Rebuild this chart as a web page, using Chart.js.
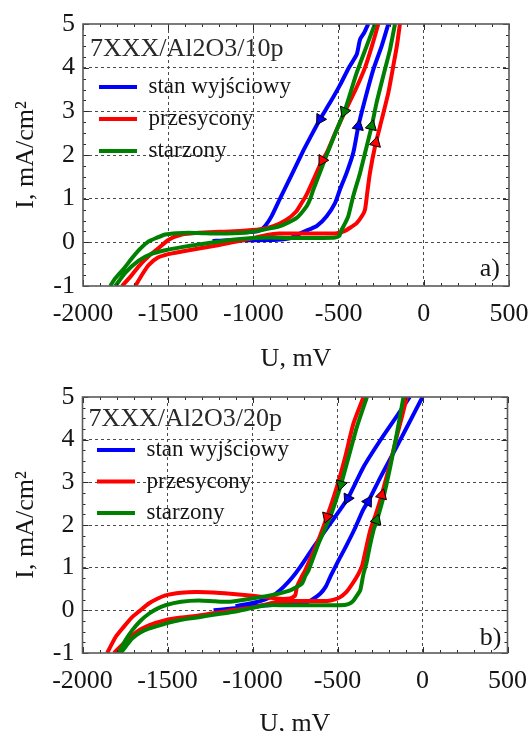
<!DOCTYPE html>
<html><head><meta charset="utf-8">
<script src="https://cdn.jsdelivr.net/npm/chart.js@4.4.1/dist/chart.umd.min.js"></script>
<style>
html,body{margin:0;padding:0;background:#fff;width:528px;height:731px;overflow:hidden;position:relative;}
canvas{position:absolute;left:0;}
#ca{top:0}
#cb{top:372px}
</style></head><body>
<canvas id="ca" width="528" height="372"></canvas>
<canvas id="cb" width="528" height="365"></canvas>
<script>
const SERIES_NAMES = ['stan wyjściowy', 'przesycony', 'starzony'];
const SERIES_COLORS = ['#0000ff', '#ff0000', '#008000'];
const PANEL_TITLES = ['7XXX/Al2O3/10p', '7XXX/Al2O3/20p'];
const PANEL_TAGS = ['a)', 'b)'];
const X_TICKS = [-2000, -1500, -1000, -500, 0, 500];
const Y_TICKS = [-1, 0, 1, 2, 3, 4, 5];
const X_TITLE = 'U, mV';
const Y_TITLE = 'I, mA/cm²';

// ---- panel a) : [U mV, I mA/cm2] ----
const aBlueFwd = [[-1240,0.03],[-1150,0.05],[-1000,0.05],[-860,0.06],[-780,0.1],[-717,0.22],[-670,0.3],[-629,0.37],[-570,0.6],[-521,0.9],[-492,1.21],[-453,1.59],[-414,2.05],[-384,2.66],[-345,3.27],[-296,3.96],[-247,4.5],[-208,5.0]];
const aBlueRev = [[-326,5.0],[-350,4.8],[-374,4.65],[-394,4.3],[-440,4.0],[-492,3.6],[-550,3.2],[-609,2.82],[-660,2.45],[-707,2.1],[-775,1.55],[-844,1.0],[-893,0.6],[-930,0.38],[-960,0.28],[-1000,0.24],[-1100,0.22]];
const aRedFwd = [[-1693,-1],[-1650,-0.72],[-1615,-0.52],[-1560,-0.35],[-1500,-0.27],[-1420,-0.21],[-1320,-0.14],[-1200,-0.06],[-1100,0.02],[-1000,0.1],[-920,0.17],[-850,0.2],[-700,0.2],[-600,0.2],[-510,0.21],[-470,0.25],[-430,0.34],[-394,0.44],[-360,0.62],[-345,0.75],[-333,1.1],[-316,1.59],[-286,2.2],[-247,2.81],[-208,3.43],[-179,4.04],[-158,4.5],[-140,5.0]];
const aRedRev = [[-267,5.0],[-300,4.55],[-345,4.0],[-400,3.5],[-462,3.0],[-520,2.5],[-570,2.05],[-600,1.85],[-640,1.5],[-687,1.1],[-717,0.9],[-750,0.7],[-805,0.52],[-883,0.37],[-961,0.3],[-1080,0.26],[-1200,0.24],[-1320,0.22],[-1420,0.18],[-1497,0.06],[-1556,-0.13],[-1615,-0.32],[-1673,-0.55],[-1720,-0.78],[-1771,-1]];
const aGreenFwd = [[-1810,-1],[-1752,-0.7],[-1673,-0.42],[-1595,-0.26],[-1517,-0.18],[-1420,-0.11],[-1321,-0.05],[-1200,0.02],[-1126,0.06],[-1000,0.1],[-900,0.11],[-800,0.1],[-700,0.1],[-600,0.1],[-520,0.11],[-495,0.15],[-482,0.29],[-460,0.45],[-443,0.6],[-414,1.06],[-374,1.59],[-335,2.2],[-306,2.66],[-277,3.2],[-238,3.81],[-198,4.42],[-169,5.0]];
const aGreenRev = [[-287,5.0],[-335,4.5],[-394,3.88],[-462,3.04],[-511,2.58],[-580,1.9],[-648,1.21],[-668,0.98],[-687,0.83],[-746,0.56],[-844,0.37],[-942,0.29],[-1059,0.22],[-1200,0.2],[-1300,0.21],[-1380,0.22],[-1450,0.21],[-1517,0.18],[-1570,0.1],[-1615,0.02],[-1665,-0.15],[-1712,-0.36],[-1760,-0.6],[-1810,-0.82],[-1840,-1]];
// arrows: [series index, branch, U, I]
const aArrows = [[0,'rev',-609,2.82],[1,'rev',-596,1.88],[2,'rev',-466,3.0],[0,'fwd',-384,2.66],[2,'fwd',-306,2.66],[1,'fwd',-282,2.28]];

// ---- panel b) ----
const bBlueFwd = [[-1229,0.0],[-1150,0.03],[-1000,0.09],[-900,0.12],[-800,0.14],[-720,0.15],[-690,0.17],[-650,0.25],[-602,0.39],[-570,0.55],[-543,0.78],[-523,0.94],[-494,1.17],[-450,1.5],[-400,1.9],[-350,2.35],[-313,2.6],[-250,3.1],[-190,3.55],[-130,4.0],[-65,4.5],[0,5.0]];
const bBlueRev = [[-75,5.0],[-141,4.61],[-249,3.98],[-347,3.36],[-440,2.62],[-543,2.03],[-641,1.48],[-719,1.02],[-770,0.75],[-817,0.55],[-860,0.4],[-896,0.31],[-950,0.22],[-1014,0.16],[-1100,0.1]];
const bRedFwd = [[-1815,-1],[-1760,-0.78],[-1708,-0.59],[-1660,-0.45],[-1610,-0.35],[-1512,-0.23],[-1420,-0.17],[-1316,-0.12],[-1220,-0.06],[-1120,0.0],[-1050,0.04],[-983,0.08],[-920,0.14],[-850,0.2],[-750,0.22],[-650,0.22],[-560,0.22],[-520,0.25],[-484,0.31],[-450,0.42],[-425,0.55],[-400,0.7],[-376,0.86],[-355,1.05],[-335,1.4],[-307,1.88],[-275,2.25],[-249,2.58],[-220,3.0],[-190,3.44],[-150,4.1],[-120,4.55],[-92,5.0]];
const bRedRev = [[-347,5.0],[-406,4.38],[-455,3.59],[-504,2.89],[-562,2.19],[-621,1.56],[-690,0.94],[-709,0.8],[-739,0.55],[-749,0.35],[-780,0.28],[-837,0.27],[-900,0.3],[-1000,0.34],[-1131,0.39],[-1230,0.42],[-1335,0.43],[-1420,0.41],[-1512,0.35],[-1560,0.27],[-1610,0.16],[-1660,0.0],[-1708,-0.16],[-1760,-0.4],[-1806,-0.63],[-1855,-1]];
const bGreenFwd = [[-1776,-1],[-1740,-0.82],[-1708,-0.66],[-1660,-0.52],[-1610,-0.43],[-1512,-0.31],[-1420,-0.22],[-1316,-0.16],[-1220,-0.1],[-1120,-0.04],[-1020,0.04],[-923,0.12],[-800,0.12],[-700,0.12],[-600,0.12],[-500,0.12],[-450,0.13],[-420,0.18],[-406,0.23],[-380,0.38],[-366,0.47],[-347,0.86],[-330,1.1],[-310,1.5],[-288,1.88],[-268,2.11],[-229,2.66],[-190,3.36],[-151,4.14],[-112,5.0]];
const bGreenRev = [[-327,5.0],[-386,4.3],[-435,3.59],[-484,2.89],[-543,2.19],[-612,1.56],[-670,0.94],[-690,0.8],[-709,0.63],[-778,0.47],[-896,0.35],[-1014,0.27],[-1131,0.2],[-1220,0.21],[-1316,0.23],[-1420,0.2],[-1512,0.12],[-1560,0.04],[-1610,-0.08],[-1660,-0.25],[-1708,-0.47],[-1750,-0.72],[-1786,-1]];
const bArrows = [[2,'rev',-480,2.95],[1,'rev',-562,2.19],[0,'rev',-440,2.62],[0,'fwd',-320,2.55],[1,'fwd',-239,2.7],[2,'fwd',-270,2.11]];

const FONT = '"Liberation Serif", "Times New Roman", serif';
const TEXT = '#151515';

function pts(a) { return a.map(p => ({x: p[0], y: p[1]})); }

function arrowAngle(c, branches) {
  const raw = c.raw;
  if (!raw || raw.b === undefined) return 0;
  const br = raw.b === 'fwd' ? branches[0] : branches[1];
  const xs = c.chart.scales.x, ys = c.chart.scales.y;
  if (!xs || !ys) return 0;
  const px = xs.getPixelForValue(raw.x), py = ys.getPixelForValue(raw.y);
  let best = Infinity, ang = 0;
  for (let i = 0; i < br.length - 1; i++) {
    const ax = xs.getPixelForValue(br[i][0]), ay = ys.getPixelForValue(br[i][1]);
    const bx = xs.getPixelForValue(br[i+1][0]), by = ys.getPixelForValue(br[i+1][1]);
    const dx = bx - ax, dy = by - ay, L2 = dx*dx + dy*dy || 1;
    let t = ((px-ax)*dx + (py-ay)*dy) / L2; t = Math.max(0, Math.min(1, t));
    const qx = ax + t*dx - px, qy = ay + t*dy - py, d = qx*qx + qy*qy;
    if (d < best) { best = d; ang = Math.atan2(dx, -dy) * 180 / Math.PI; }
  }
  return ang;
}

const decorPlugin = {
  id: 'decor',
  beforeDraw(chart, args, opts) {
    const lg = chart.legend, a = chart.chartArea;
    if (lg) {
      lg.left = a.left + opts.legendShift;
      lg.top = a.top;
      lg.bottom = a.bottom;
    }
  },
  afterDraw(chart, args, opts) {
    const {ctx, chartArea: a} = chart;
    const xs = chart.scales.x, ys = chart.scales.y;
    ctx.save();
    ctx.strokeStyle = '#2a2a2a';
    ctx.lineWidth = 1;
    ctx.beginPath();
    for (let v = -2000; v <= 500; v += 100) {
      const p = Math.round(xs.getPixelForValue(v)) + 0.5;
      const len = (v % 500 === 0) ? 6 : 3;
      ctx.moveTo(p, a.bottom); ctx.lineTo(p, a.bottom - len);
      ctx.moveTo(p, a.top); ctx.lineTo(p, a.top + len);
    }
    for (let k = -4; k <= 20; k++) {
      const v = k / 4;
      const p = Math.round(ys.getPixelForValue(v)) + 0.5;
      const len = (k % 4 === 0) ? 6 : 3;
      ctx.moveTo(a.left, p); ctx.lineTo(a.left + len, p);
      ctx.moveTo(a.right, p); ctx.lineTo(a.right - len, p);
    }
    ctx.stroke();
    ctx.strokeStyle = '#5a5a5a';
    ctx.lineWidth = 1.6;
    ctx.strokeRect(a.left, a.top, a.right - a.left, a.bottom - a.top);
    ctx.fillStyle = TEXT;
    ctx.font = '26px ' + FONT;
    ctx.textAlign = 'right';
    ctx.textBaseline = 'middle';
    ctx.fillText(opts.tag, a.right - opts.tagDx, a.bottom - opts.tagDy);
    ctx.restore();
  }
};

function makePanel(id, P) {
  const datasets = [];
  const order = [2, 1, 0];
  order.forEach(s => {
    datasets.push({
      label: SERIES_NAMES[s] + ' (kierunek)',
      data: P.arrows.filter(a => a[0] === s).map(a => ({x: a[2], y: a[3], b: a[1]})),
      showLine: false,
      pointStyle: 'triangle',
      pointRadius: 6.5,
      pointHoverRadius: 6.5,
      pointBackgroundColor: SERIES_COLORS[s],
      pointBorderColor: '#000',
      pointBorderWidth: 1,
      pointRotation: c => arrowAngle(c, P.series[s])
    });
  });
  order.forEach(s => {
    datasets.push({
      label: SERIES_NAMES[s],
      data: pts(P.series[s][0]).concat([{x: null, y: null}], pts(P.series[s][1])),
      borderColor: SERIES_COLORS[s],
      backgroundColor: SERIES_COLORS[s],
      borderWidth: 4,
      pointRadius: 0,
      tension: 0.2,
      clip: 0,
      spanGaps: false,
      fill: false
    });
  });
  const edgeX = [X_TICKS[0], X_TICKS[X_TICKS.length-1]];
  const edgeY = [Y_TICKS[0], Y_TICKS[Y_TICKS.length-1]];
  return new Chart(document.getElementById(id), {
    type: 'line',
    data: {datasets},
    options: {
      responsive: false,
      animation: false,
      devicePixelRatio: 1,
      events: [],
      layout: {padding: {top: P.top, right: P.right, left: 0, bottom: 0}, autoPadding: false},
      plugins: {
        tooltip: {enabled: false},
        legend: {
          position: 'chartArea',
          align: 'start',
          onClick: null,
          title: {display: true, text: P.title, position: 'start', color: '#2a2a2a',
                  font: {family: FONT, size: 26, lineHeight: 1}, padding: {top: P.tpt, bottom: P.tpb}},
          labels: {
            boxWidth: 38, boxHeight: 4, padding: P.lpad, color: TEXT,
            font: {family: FONT, size: 23},
            generateLabels: () => SERIES_NAMES.map((t, i) => ({
              text: t, fillStyle: SERIES_COLORS[i], strokeStyle: SERIES_COLORS[i],
              lineWidth: 0, hidden: false, datasetIndex: 5 - i, fontColor: TEXT
            }))
          }
        },
        decor: {legendShift: P.shift, tag: P.tag, tagDx: P.tagDx, tagDy: P.tagDy}
      },
      scales: {
        x: {
          type: 'linear', min: X_TICKS[0], max: X_TICKS[X_TICKS.length-1],
          afterBuildTicks: s => { s.ticks = X_TICKS.map(v => ({value: v})); },
          afterFit: s => { s.height = P.xh; s.paddingLeft = 0; s.paddingRight = 0; },
          ticks: {color: TEXT, font: {family: FONT, size: 26, lineHeight: 1.2}, padding: P.xpad,
                  maxRotation: 0, autoSkip: false, callback: v => String(v)},
          grid: {drawTicks: false, lineWidth: 1,
                 color: c => (c.tick && edgeX.includes(c.tick.value)) ? 'rgba(0,0,0,0)' : '#4a4a4a'},
          border: {display: false, dash: [3, 3]},
          title: {display: true, text: X_TITLE, color: TEXT, font: {family: FONT, size: 26, lineHeight: 1},
                  padding: {top: 0, bottom: 0}}
        },
        y: {
          type: 'linear', min: Y_TICKS[0], max: Y_TICKS[Y_TICKS.length-1],
          afterBuildTicks: s => { s.ticks = Y_TICKS.map(v => ({value: v})); },
          afterFit: s => { s.width = P.yw; s.paddingTop = 0; s.paddingBottom = 0; },
          ticks: {color: TEXT, font: {family: FONT, size: 26, lineHeight: 1.2}, padding: 8,
                  autoSkip: false, callback: v => String(v)},
          grid: {drawTicks: false, lineWidth: 1,
                 color: c => (c.tick && edgeY.includes(c.tick.value)) ? 'rgba(0,0,0,0)' : '#4a4a4a'},
          border: {display: false, dash: [3, 3]},
          title: {display: true, text: Y_TITLE, color: TEXT, font: {family: FONT, size: 26, lineHeight: 1.2},
                  padding: {top: 11, bottom: 0}}
        }
      }
    },
    plugins: [decorPlugin]
  });
}

makePanel('ca', {
  series: [[aBlueFwd, aBlueRev], [aRedFwd, aRedRev], [aGreenFwd, aGreenRev]],
  arrows: aArrows, title: PANEL_TITLES[0], tag: PANEL_TAGS[0],
  top: 24, right: 19, yw: 83, xh: 86, xpad: 13, tpt: 12, tpb: 4.5, lpad: 9, shift: 7, tagDx: 9, tagDy: 17
});
makePanel('cb', {
  series: [[bBlueFwd, bBlueRev], [bRedFwd, bRedRev], [bGreenFwd, bGreenRev]],
  arrows: bArrows, title: PANEL_TITLES[1], tag: PANEL_TAGS[1],
  top: 25, right: 20.5, yw: 82.5, xh: 84, xpad: 13, tpt: 9, tpb: -2, lpad: 8.5, shift: 6, tagDx: 6, tagDy: 15
});
</script></body></html>
